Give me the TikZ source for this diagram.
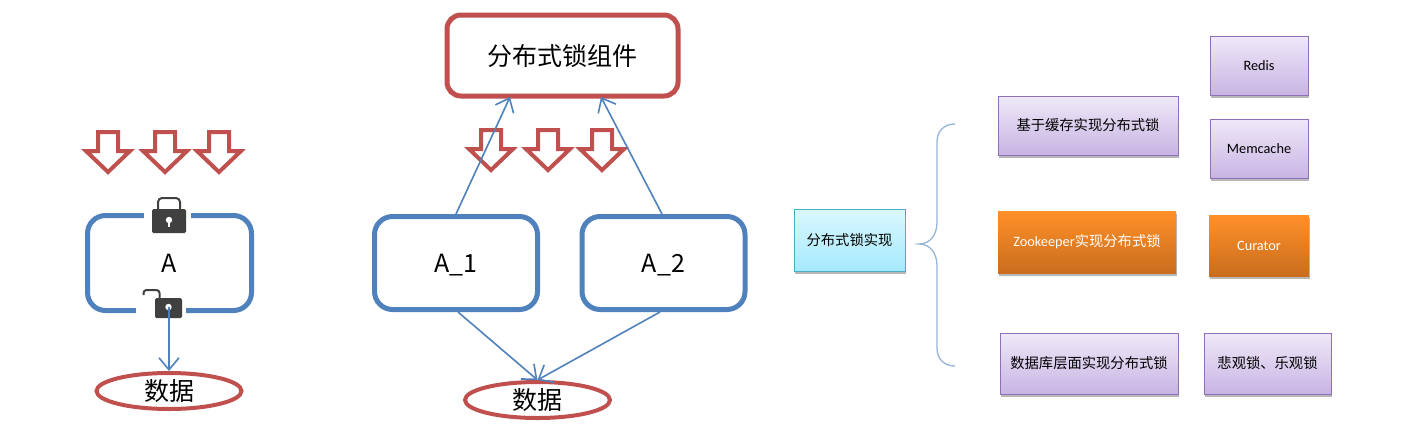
\documentclass[tikz,border=0pt]{standalone}
\usepackage{fontspec}
\setmainfont{Noto Sans CJK SC}
\newfontfamily\latinfont{Carlito}
\usetikzlibrary{arrows.meta,shadows,shapes.geometric}
\newcommand{\pxfont}[1]{\fontsize{#1}{#1}\selectfont}
\definecolor{lockred}{HTML}{C0504D}
\definecolor{lockblue}{HTML}{4F81BD}
\definecolor{lockgray}{HTML}{404040}
\definecolor{purpletop}{HTML}{EFE9F8}
\definecolor{purplebot}{HTML}{C8B4E3}
\definecolor{purpleline}{HTML}{8F6FB5}
\definecolor{orangetop}{HTML}{FF9029}
\definecolor{orangebot}{HTML}{C96D1E}
\definecolor{cyantop}{HTML}{DBF7FD}
\definecolor{cyanbot}{HTML}{A5EAFD}
\definecolor{cyanline}{HTML}{4AACC5}
\begin{document}
\begin{tikzpicture}[
  x=1pt, y=-1pt,
  >={Straight Barb[length=12pt,width=20pt]},
  redbox/.style={rectangle, rounded corners=14pt, draw=lockred, line width=5pt, font=\pxfont{25}},
  bluebox/.style={rectangle, rounded corners=18pt, draw=lockblue, line width=5pt, minimum width=163pt, minimum height=93pt, text height=18pt, text depth=0pt, font=\pxfont{25}},
  dataoval/.style={ellipse, draw=lockred, line width=4pt, minimum width=145pt, minimum height=36pt, inner sep=0pt, font=\pxfont{25}},
  flow/.style={->, lockblue, line width=1.6pt},
  flat/.style={rectangle, drop shadow={shadow xshift=0.5pt, shadow yshift=-2.5pt, fill=black, opacity=0.28}, font=\pxfont{14.3}, inner sep=0pt},
  purplebox/.style={flat, draw=purpleline, line width=1pt, top color=purpletop, bottom color=purplebot},
  orangebox/.style={flat, top color=orangetop, bottom color=orangebot, text=white},
  cyanbox/.style={flat, draw=cyanline, line width=1pt, top color=cyantop, bottom color=cyanbot},
  downarrow/.pic={
    \draw[lockred, line width=4pt, fill=white, miter limit=10]
      (-10,-19) -- (10,-19) -- (10,0) -- (22,0) -- (0,21) -- (-22,0) -- (-10,0) -- cycle;
  },
  closedlock/.pic={
    \fill[white] (-25,-6) rectangle (22,6);
    \draw[lockgray, line width=2pt, rounded corners=4pt] (-11,-4) -- (-11,-15) -- (11,-15) -- (11,-4);
    \fill[lockgray, rounded corners=1.5pt] (-17,-4) rectangle (17,20);
    \fill[white] (0,7) circle (3.2);
    \fill[white] (-1,8) rectangle (1,14);
  },
  openlock/.pic={
    \fill[white] (-33,-4) rectangle (17,8);
    \draw[lockgray, line width=2pt, rounded corners=3pt] (-25,-14) -- (-25,-19) -- (-9,-19) -- (-9,-11);
    \fill[lockgray, rounded corners=1.5pt] (-13.5,-11) rectangle (13.5,9);
    \fill[white] (0,-2) circle (3.2);
  }
]
\useasboundingbox (0,0) rectangle (1413,429);

% left: one process
\node[bluebox, minimum width=164pt, minimum height=95pt] (a) at (169.5,263) {A};
\node[dataoval] (data1) at (169,391) {数据};
\pic at (108,151) {downarrow};
\pic at (165,151) {downarrow};
\pic at (219,151) {downarrow};
\pic at (169,213) {closedlock};
\pic at (168.5,309) {openlock};
\coordinate (unlock) at (169,307);
\draw[flow] (unlock) -- (data1.north);

% middle: two processes
\node[redbox, minimum width=231pt, minimum height=81pt] (lockcomp) at (562.5,55.5) {分布式锁组件};
\node[bluebox] (a1) at (456,263) {A\_1};
\node[bluebox] (a2) at (663.5,263) {A\_2};
\node[dataoval] (data2) at (537.5,400) {数据};
\coordinate (compleft) at (510,97);
\coordinate (compright) at (601,97);
\pic at (491,149) {downarrow};
\pic at (548,149) {downarrow};
\pic at (602,149) {downarrow};
\draw[flow] (a1.north) -- (compleft);
\draw[flow] ([xshift=-1.5pt]a2.north) -- (compright);
\draw[flow] ([xshift=2pt]a1.south) -- (data2.north);
\draw[flow] ([xshift=-3.5pt]a2.south) -- (data2.north);

% right: implementations
\node[cyanbox, minimum width=111pt, minimum height=62pt] (impl) at (849.5,240) {分布式锁实现};
\node[purplebox, minimum width=180pt, minimum height=59pt] (cache) at (1088,125.5) {基于缓存实现分布式锁};
\node[purplebox, minimum width=98pt, minimum height=59pt] (redis) at (1259,65.5) {\latinfont Redis};
\node[purplebox, minimum width=98pt, minimum height=59pt] (memcache) at (1259,148.5) {\latinfont Memcache};
\node[orangebox, minimum width=178pt, minimum height=62pt] (zk) at (1087,242) {{\latinfont Zookeeper}实现分布式锁};
\node[orangebox, minimum width=100pt, minimum height=61pt] (curator) at (1259,245.5) {\latinfont Curator};
\node[purplebox, minimum width=178pt, minimum height=61pt] (db) at (1089,363.5) {数据库层面实现分布式锁};
\node[purplebox, minimum width=127pt, minimum height=61pt] (lockkinds) at (1267.5,363.5) {悲观锁、乐观锁};
\draw[lockblue!60, line width=1.3pt] (955,124) .. controls (944,124) and (937,131) .. (937,142)
  -- (937,222) .. controls (937,235) and (930,244) .. (919,244)
  .. controls (930,244) and (937,253) .. (937,266)
  -- (937,348) .. controls (937,359) and (944,366) .. (955,366);
\end{tikzpicture}
\end{document}
